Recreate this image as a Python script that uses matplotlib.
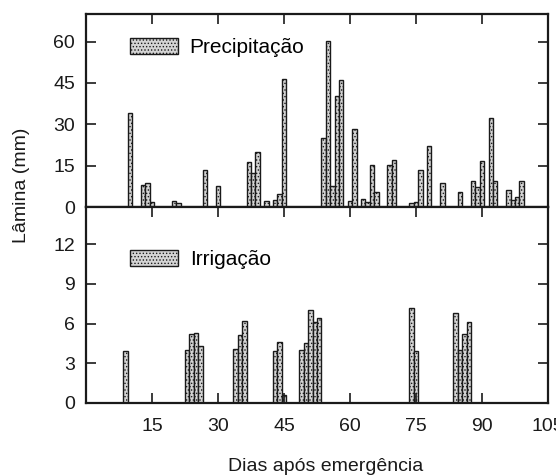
import numpy as np
import matplotlib
matplotlib.use("Agg")
import matplotlib.pyplot as plt

plt.rcParams['font.family'] = ['Liberation Sans', 'DejaVu Sans']
plt.rcParams['hatch.linewidth'] = 0.6

# Precipitação (mm) por dia após emergência
prec_dias = [10, 13, 14, 15, 20, 21, 27, 30, 37, 38, 39, 41, 43, 44, 45,
             54, 55, 56, 57, 58, 60, 61, 63, 64, 65, 66, 69, 70, 74, 75, 76,
             78, 81, 85, 88, 89, 90, 92, 93, 96, 97, 98, 99]
prec_mm = [34.0, 7.9, 8.8, 1.9, 2.1, 1.3, 13.3, 7.5, 16.5, 12.5, 19.9, 2.2,
           2.7, 4.9, 46.3, 25.2, 60.2, 7.7, 40.3, 46.0, 2.1, 28.4, 3.1, 1.9,
           15.1, 5.6, 15.3, 16.9, 1.5, 2.0, 13.5, 22.0, 8.8, 5.6, 9.4, 7.3,
           16.8, 32.2, 9.4, 6.3, 2.7, 3.7, 9.5]

# Irrigação (mm)
irr_dias = [9, 23, 24, 25, 26, 34, 35, 36, 43, 44, 45, 49, 50, 51, 52, 53,
            74, 75, 84, 85, 86, 87]
irr_mm = [3.9, 4.0, 5.2, 5.3, 4.3, 4.05, 5.1, 6.2, 3.9, 4.6, 0.6, 4.0, 4.5,
          7.0, 6.1, 6.4, 7.2, 3.9, 6.8, 4.0, 5.2, 6.15]

xticks = [15, 30, 45, 60, 75, 90, 105]
prec_yticks = [0, 15, 30, 45, 60]
irr_yticks = [0, 3, 6, 9, 12]

fig = plt.figure(figsize=(5.56, 4.76), dpi=100)
ax1 = fig.add_axes([0.1547, 0.565, 0.831, 0.4055])
ax2 = fig.add_axes([0.1547, 0.1534, 0.831, 0.4118])

bar_kw = dict(width=1.0, facecolor='#d4d4d4', edgecolor='#1a1a1a',
              linewidth=1.0, hatch='.....', align='center')

ax1.bar(prec_dias, prec_mm, label='Precipitação', **bar_kw)
ax2.bar(irr_dias, irr_mm, label='Irrigação', **bar_kw)

ax1.set_xlim(0, 105)
ax2.set_xlim(0, 105)
ax1.set_ylim(0, 70)
ax2.set_ylim(0, 14.8)

ax1.set_xticks(xticks)
ax2.set_xticks(xticks)
ax1.set_yticks(prec_yticks)
ax2.set_yticks(irr_yticks)

ax1.tick_params(axis='both', direction='in', length=7, width=1.2,
                top=True, bottom=False, right=True, left=True,
                labelbottom=False, labelsize=14, colors='#1a1a1a')
ax1.tick_params(axis='y', pad=8)
ax2.tick_params(axis='both', direction='in', length=7, width=1.2,
                top=True, bottom=True, right=True, left=True,
                labelsize=14, colors='#1a1a1a')
ax2.tick_params(axis='y', pad=8)
ax2.tick_params(axis='x', pad=11)

for ax in (ax1, ax2):
    for sp in ax.spines.values():
        sp.set_linewidth(1.6)
        sp.set_color('#1a1a1a')

leg_kw = dict(frameon=False, fontsize=15, borderpad=0, handlelength=2.3,
              handleheight=0.82, handletextpad=0.55, loc='center left')
ax1.legend(bbox_to_anchor=(0.072, 0.826), **leg_kw)
ax2.legend(bbox_to_anchor=(0.0736, 0.731), **leg_kw)

fig.text(22 / 556, 1 - 185 / 476, 'Lâmina (mm)', rotation=90,
         ha='center', va='center', fontsize=14, color='#1a1a1a')
fig.text(326 / 556, 5 / 476, 'Dias após emergência', ha='center',
         va='baseline', fontsize=14, color='#1a1a1a')

fig.savefig('out.png', dpi=100)
